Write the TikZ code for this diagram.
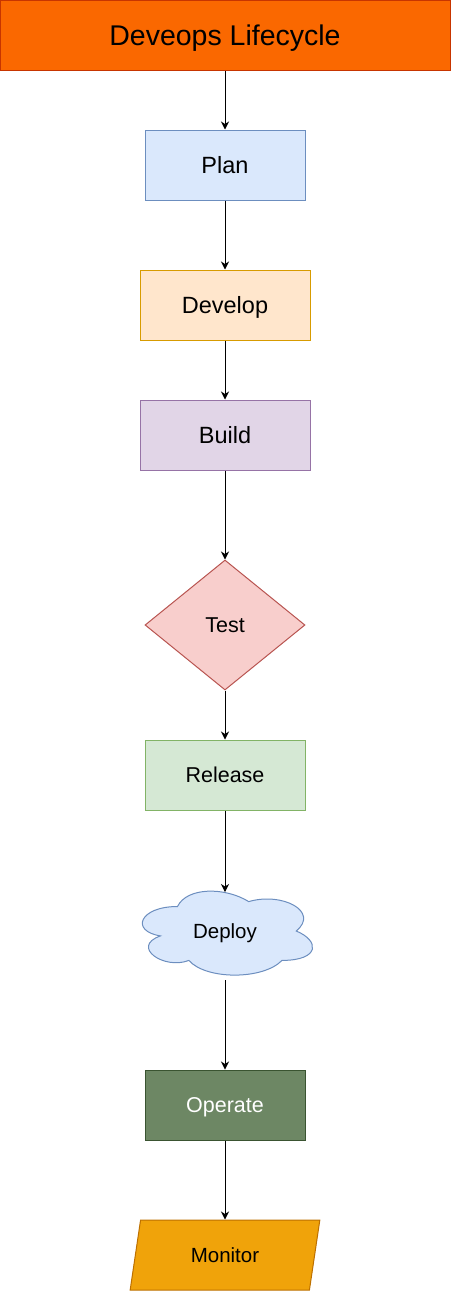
\documentclass[tikz,border=0pt]{standalone}
\usepackage{fontspec}
\setmainfont{Liberation Sans}
\usetikzlibrary{shapes.geometric,arrows.meta,positioning}
\usepackage{xcolor}

\definecolor{titlefill}{HTML}{FA6800}
\definecolor{titleline}{HTML}{C73500}
\definecolor{bluefill}{HTML}{DAE8FC}
\definecolor{blueline}{HTML}{6C8EBF}
\definecolor{orangefill}{HTML}{FFE6CC}
\definecolor{orangeline}{HTML}{D79B00}
\definecolor{purplefill}{HTML}{E1D5E7}
\definecolor{purpleline}{HTML}{9673A6}
\definecolor{redfill}{HTML}{F8CECC}
\definecolor{redline}{HTML}{B85450}
\definecolor{greenfill}{HTML}{D5E8D4}
\definecolor{greenline}{HTML}{82B366}
\definecolor{olivefill}{HTML}{6D8764}
\definecolor{oliveline}{HTML}{3A5431}
\definecolor{amberfill}{HTML}{F0A30A}
\definecolor{amberline}{HTML}{BD7000}

\begin{document}
\begin{tikzpicture}[x=1pt, y=-1pt]
    % Styles
    \tikzstyle{bigtext}=[font=\fontsize{23.5}{28}\selectfont, text height=16.8pt, text depth=0pt]
    \tikzstyle{midtext}=[font=\fontsize{21.5}{26}\selectfont, text height=15.4pt, text depth=0pt]
    \tikzstyle{smalltext}=[font=\fontsize{20.5}{25}\selectfont, text height=14.7pt, text depth=0pt]
    \tikzstyle{stepbox}=[rectangle, draw, line width=1pt, inner sep=0pt, minimum height=70pt, bigtext]
    \tikzstyle{flow}=[draw, line width=1pt, -{Stealth[length=8pt, width=8pt, inset=2.5pt]}]

    \useasboundingbox (0,0) rectangle (451,1291);

    % Title
    \node[stepbox, fill=titlefill, draw=titleline, minimum width=450pt, font=\fontsize{28.5}{34}\selectfont, text height=20.4pt] (title) at (225,35.5) {Deveops Lifecycle};

    % Stages
    \node[stepbox, fill=bluefill, draw=blueline, minimum width=160pt] (plan) at (225,165) {Plan};
    \node[stepbox, fill=orangefill, draw=orangeline, minimum width=170pt] (develop) at (225,305) {Develop};
    \node[stepbox, fill=purplefill, draw=purpleline, minimum width=170pt] (build) at (225,435) {Build};
    \node[diamond, draw=redline, fill=redfill, line width=1pt, inner sep=0pt, minimum width=160pt, minimum height=130pt, midtext] (test) at (225,625) {Test};
    \node[stepbox, fill=greenfill, draw=greenline, minimum width=160pt, midtext] (release) at (225,775) {Release};

    % Cloud for deploy
    \begin{scope}[shift={(130pt,-882pt)}, x=190pt, y=-98pt]
        \path[fill=bluefill, draw=blueline, line width=1pt]
            (0.25,0.25) .. controls (0.05,0.25) and (0,0.5) .. (0.16,0.55)
            .. controls (0,0.66) and (0.18,0.9) .. (0.31,0.8)
            .. controls (0.4,1) and (0.7,1) .. (0.8,0.8)
            .. controls (1,0.8) and (1,0.6) .. (0.875,0.5)
            .. controls (1,0.3) and (0.8,0.1) .. (0.625,0.2)
            .. controls (0.5,0.05) and (0.3,0.05) .. (0.25,0.25) -- cycle;
    \end{scope}
    \node[rectangle, inner sep=0pt, minimum width=190pt, minimum height=98pt, smalltext] (deploy) at (225,931) {Deploy};
    \coordinate (deploytop) at (225,892);

    \node[stepbox, fill=olivefill, draw=oliveline, minimum width=160pt, text=white, midtext] (operate) at (225,1105) {Operate};
    \node[trapezium, trapezium left angle=74, trapezium right angle=106, trapezium stretches=true, draw=amberline, fill=amberfill, line width=1pt, inner sep=0pt, minimum width=190pt, minimum height=70pt, smalltext] (monitor) at (225,1255) {Monitor};
    \coordinate (monitortop) at (operate.south |- monitor.north);

    % Connectors
    \draw[flow] (title) -- (plan);
    \draw[flow] (plan) -- (develop);
    \draw[flow] (develop) -- (build);
    \draw[flow] (build) -- (test);
    \draw[flow] (test) -- (release);
    \draw[flow] (release) -- (deploytop);
    \draw[flow] (deploy) -- (operate);
    \draw[flow] (operate.south) -- (monitortop);
\end{tikzpicture}
\end{document}
